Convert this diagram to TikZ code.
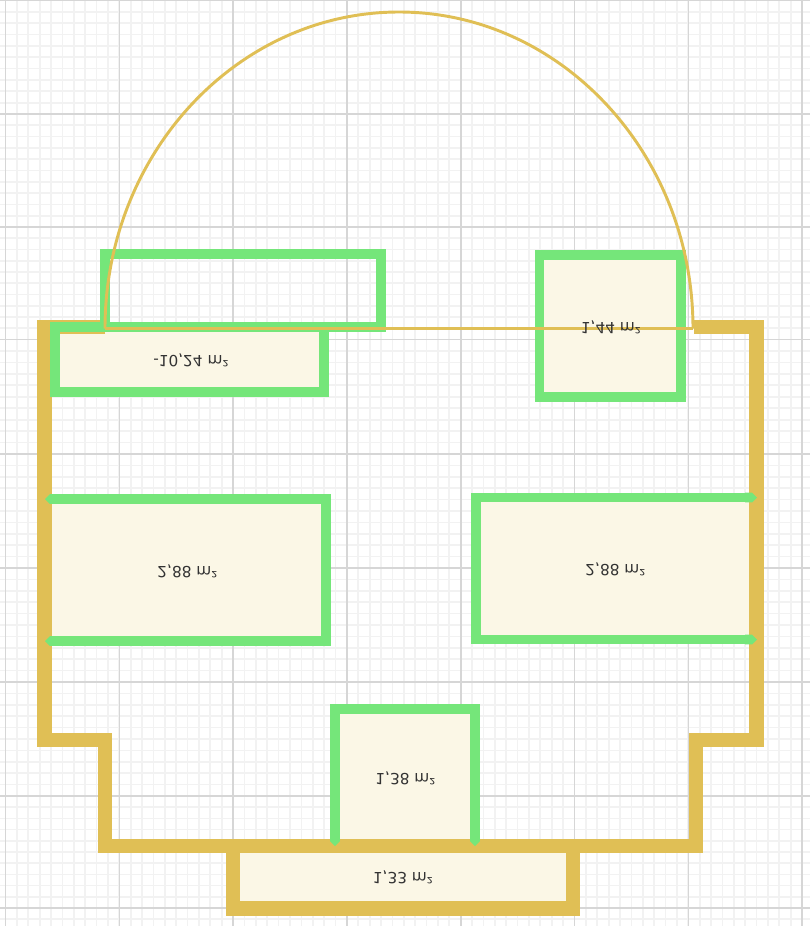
\documentclass[tikz,border=0pt]{standalone}
\usepackage{fontspec}
\setmainfont{DejaVu Sans}
\usetikzlibrary{arrows.meta}
\definecolor{wallgold}{HTML}{E0BF55}
\definecolor{fencegreen}{HTML}{75E67A}
\definecolor{roomcream}{HTML}{FBF7E6}
\definecolor{gridmajor}{HTML}{D6D6D6}
\definecolor{gridminor}{HTML}{F2F2F2}
\begin{document}
\begin{tikzpicture}[x=0.75pt,y=-0.75pt]
	\tikzstyle{minorline}=[draw=gridminor,line width=1.3pt]
	\tikzstyle{majorline}=[draw=gridmajor,line width=1.2pt]
	\tikzstyle{room}=[fill=roomcream,draw=none]
	\tikzstyle{fence}=[draw=fencegreen,line width=7.2pt,line join=miter]
	\tikzstyle{fenceend}=[fence,{Triangle Cap[cap angle=90]}-{Triangle Cap[cap angle=90]}]
	\tikzstyle{wall}=[draw=wallgold,line width=10.7pt,line join=miter]
	\tikzstyle{thinwall}=[draw=wallgold,line width=2.2pt]
	\tikzstyle{area}=[font=\fontsize{11.5}{14}\selectfont,text=black!80,yscale=-1,transform shape]
	\useasboundingbox (0,0) rectangle (810,926);
	\fill[white] (0,0) rectangle (810,926);
	% grid
	\foreach \i in {0,...,71} {
		\draw[minorline] ({5.5+11.38*\i},0) -- ({5.5+11.38*\i},926);
	}
	\foreach \a/\b in {0.5/114,114/227,227/339.5,339.5/454,454/568,568/682,682/796,796/908,908/1020} {
		\foreach \i in {1,...,9} {
			\draw[minorline] (0,{\a+(\b-\a)*\i/10}) -- (810,{\a+(\b-\a)*\i/10});
		}
	}
	\foreach \i in {0,...,7} {
		\draw[majorline] ({5.5+113.8*\i},0) -- ({5.5+113.8*\i},926);
	}
	\foreach \y in {0.5,114,227,339.5,454,568,682,796,908} {
		\draw[majorline] (0,\y) -- (810,\y);
	}
	% rooms
	\path[room] (55,327) rectangle (324,392);
	\path[room] (539,255) rectangle (681,397);
	\path[room] (44,498) rectangle (326,640);
	\path[room] (476,498) rectangle (757,639);
	\path[room] (335,709) rectangle (475,846);
	\path[room] (233,846) rectangle (573,908);
	% walls
	\draw[wall] (105,327) -- (44.5,327) -- (44.5,740) -- (105,740) -- (105,846) -- (233,846) -- (233,908.5) -- (573,908.5) -- (573,846) -- (696,846) -- (696,740) -- (756.5,740) -- (756.5,327) -- (694,327);
	\draw[wall] (233,846) -- (573,846);
	% fences
	\draw[fence] (105,327) rectangle (381,254);
	\draw[fence] (55,327) rectangle (324,392);
	\draw[fence] (539.5,255) rectangle (681,397);
	\draw[fenceend] (45,499) -- (326,499) -- (326,641) -- (45,641);
	\draw[fenceend] (757,497.5) -- (476,497.5) -- (476,639.5) -- (757,639.5);
	\draw[fenceend] (335,846) -- (335,709) -- (475,709) -- (475,846);
	% door
	\draw[thinwall] (105,328.5) -- (693,328.5);
	\draw[thinwall] (105,328.5) .. controls (105,154) and (237,12) .. (399,12) .. controls (561,12) and (693,154) .. (693,328.5);
	% labels
	\node [area] (a1) at (191,360) {-10,24 m²};
	\node [area] (a2) at (611,327) {1,44 m²};
	\node [area] (a3) at (187.5,571) {2,88 m²};
	\node [area] (a4) at (615.5,569) {2,88 m²};
	\node [area] (a5) at (405.5,778) {1,38 m²};
	\node [area] (a6) at (403,877) {1,33 m²};
\end{tikzpicture}
\end{document}
